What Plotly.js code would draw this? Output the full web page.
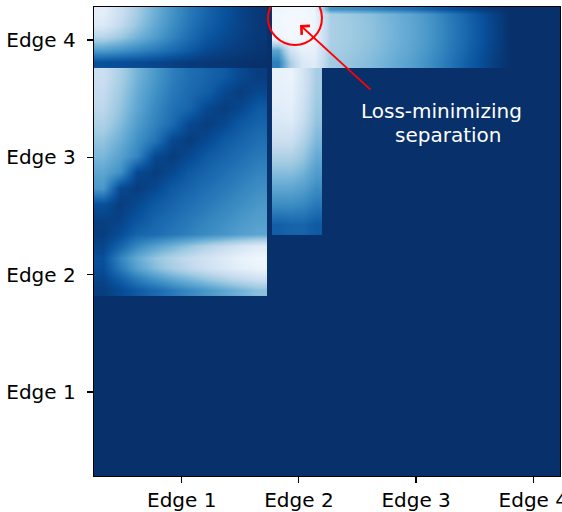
<!DOCTYPE html>
<html><head><meta charset="utf-8">
<script src="https://cdn.plot.ly/plotly-3.0.1.min.js"></script>
<style>html,body{margin:0;padding:0;background:#fff;}#chart{width:562px;height:512px;}</style>
</head><body><div id="chart"></div>
<script>
// tick positions / labels
const edgeTicks = [1, 2, 3, 4];
const edgeLabels = ['Edge 1', 'Edge 2', 'Edge 3', 'Edge 4'];

// shared columns for the Edge-1 blocks (x in edge units)
const colsLeft = [0.3255, 0.4731, 0.6207, 0.7683, 0.9159, 1.0635, 1.2112, 1.3588, 1.5064, 1.6540];

// Block A: Edge 1 (x) vs Edge 4 (y), rows listed top to bottom
const rowsA = [4.2293, 4.1253, 4.0214, 3.9174, 3.8134];
const lossA = [
  [0.10, 0.22, 0.36, 0.50, 0.62, 0.72, 0.80, 0.87, 0.93, 0.97],
  [0.14, 0.26, 0.40, 0.53, 0.64, 0.74, 0.82, 0.88, 0.93, 0.97],
  [0.30, 0.38, 0.48, 0.58, 0.68, 0.77, 0.85, 0.90, 0.94, 0.97],
  [0.58, 0.62, 0.67, 0.72, 0.78, 0.84, 0.90, 0.94, 0.96, 0.98],
  [0.88, 0.89, 0.90, 0.92, 0.94, 0.96, 0.97, 0.98, 0.99, 1.00]
];

// Block B: Edge 1 (x) vs Edge 2-3 (y), rows top to bottom
const rowsB = [3.6932, 3.5569, 3.4205, 3.2842, 3.1478, 3.0114, 2.8751, 2.7387,
               2.6023, 2.4660, 2.3466, 2.2444, 2.1421, 2.0569, 1.9716, 1.8693];
const lossB = [
  [0.22, 0.34, 0.48, 0.60, 0.70, 0.76, 0.80, 0.84, 0.91, 0.95],
  [0.25, 0.37, 0.51, 0.63, 0.72, 0.78, 0.82, 0.91, 0.95, 0.91],
  [0.28, 0.40, 0.54, 0.66, 0.75, 0.80, 0.91, 0.95, 0.91, 0.84],
  [0.33, 0.44, 0.58, 0.69, 0.78, 0.91, 0.95, 0.91, 0.84, 0.80],
  [0.40, 0.50, 0.63, 0.74, 0.91, 0.95, 0.91, 0.84, 0.80, 0.76],
  [0.46, 0.56, 0.68, 0.91, 0.95, 0.91, 0.84, 0.80, 0.76, 0.72],
  [0.54, 0.63, 0.91, 0.95, 0.91, 0.84, 0.80, 0.76, 0.72, 0.68],
  [0.60, 0.91, 0.95, 0.91, 0.84, 0.80, 0.76, 0.72, 0.68, 0.64],
  [0.88, 0.95, 0.91, 0.84, 0.80, 0.76, 0.72, 0.68, 0.64, 0.60],
  [0.94, 0.93, 0.86, 0.80, 0.76, 0.72, 0.68, 0.64, 0.60, 0.57],
  [0.95, 0.89, 0.80, 0.77, 0.73, 0.69, 0.65, 0.61, 0.57, 0.54],
  [0.92, 0.80, 0.66, 0.56, 0.48, 0.40, 0.32, 0.25, 0.18, 0.12],
  [0.88, 0.68, 0.52, 0.40, 0.32, 0.25, 0.19, 0.13, 0.07, 0.04],
  [0.89, 0.72, 0.56, 0.44, 0.35, 0.28, 0.21, 0.15, 0.10, 0.06],
  [0.92, 0.82, 0.70, 0.60, 0.52, 0.45, 0.38, 0.31, 0.25, 0.20],
  [0.95, 0.90, 0.84, 0.78, 0.72, 0.66, 0.60, 0.54, 0.48, 0.42]
];

// Block C: Edge 2 (x) vs Edge 2-3 (y)
const colsC = [1.8238, 1.9305, 2.0371, 2.1438];
const rowsC = [3.6728, 3.4947, 3.3165, 3.1384, 2.9603, 2.7830, 2.6049, 2.4267];
const lossC = [
  [0.08, 0.06, 0.18, 0.35],
  [0.10, 0.08, 0.20, 0.37],
  [0.14, 0.12, 0.24, 0.40],
  [0.22, 0.22, 0.32, 0.46],
  [0.36, 0.36, 0.42, 0.54],
  [0.50, 0.50, 0.54, 0.62],
  [0.64, 0.64, 0.66, 0.72],
  [0.82, 0.80, 0.80, 0.84]
];

// Block D: Edge 2-4 (x) vs Edge 4 (y)
const colsD = [1.8217, 1.9241, 2.0265, 2.1289, 2.2654, 2.4360, 2.6067, 2.7773,
               2.9480, 3.1186, 3.2893, 3.4599, 3.6306, 3.8012];
const rowsD = [4.2600, 4.2174, 4.1194, 4.0171, 3.9149, 3.8126];
const lossD = [
  [0.05, 0.03, 0.03, 0.06, 0.62, 0.64, 0.68, 0.72, 0.76, 0.82, 0.88, 0.93, 0.97, 1.00],
  [0.04, 0.02, 0.02, 0.05, 0.34, 0.38, 0.42, 0.48, 0.54, 0.62, 0.72, 0.82, 0.92, 1.00],
  [0.04, 0.02, 0.02, 0.05, 0.33, 0.37, 0.41, 0.47, 0.53, 0.61, 0.71, 0.81, 0.91, 1.00],
  [0.06, 0.03, 0.03, 0.06, 0.33, 0.37, 0.41, 0.47, 0.53, 0.61, 0.71, 0.81, 0.91, 1.00],
  [0.55, 0.20, 0.08, 0.08, 0.34, 0.38, 0.42, 0.48, 0.54, 0.62, 0.72, 0.82, 0.92, 1.00],
  [0.70, 0.35, 0.15, 0.12, 0.36, 0.40, 0.44, 0.50, 0.56, 0.64, 0.74, 0.84, 0.93, 1.00]
];

// loss-minimizing separation (circle centre + radius, arrow tail, label anchor)
const minSep = {x: 1.9667, y: 4.1876, r: 0.2302};
const arrowHead = {x: 2.0094, y: 4.1279};
const arrowTail = {x: 2.6237, y: 3.5654};
const labelLines = ['Loss-minimizing', 'separation'];
const labelPos = [{x: 3.2167, y: 3.3907}, {x: 3.2722, y: 3.1904}];

const blues = [[0, '#f7fbff'], [0.125, '#deebf7'], [0.25, '#c6dbef'], [0.375, '#9ecae1'],
  [0.5, '#6baed6'], [0.625, '#4292c6'], [0.75, '#2171b5'], [0.875, '#08519c'], [1, '#08306b']];

function block(xs, ys, zs) {
  return {type: 'heatmap', x: xs, y: ys.slice().reverse(), z: zs.slice().reverse(),
    colorscale: blues, zmin: 0, zmax: 1, zsmooth: 'best', showscale: false, hoverinfo: 'skip'};
}

const data = [
  block(colsLeft, rowsA, lossA),
  block(colsLeft, rowsB, lossB),
  block(colsC, rowsC, lossC),
  block(colsD, rowsD, lossD)
];

const font = {family: 'DejaVu Sans', size: 20, color: '#000'};
const axisBase = {showgrid: false, zeroline: false, showline: true, mirror: true,
  linecolor: '#000', linewidth: 1.3, ticks: 'outside', ticklen: 6, tickwidth: 1.2,
  tickcolor: '#000', tickvals: edgeTicks, ticktext: edgeLabels, tickfont: font,
  ticklabeloverflow: 'allow', fixedrange: true};

const layout = {
  width: 562, height: 512,
  margin: {l: 94, r: 2, t: 7, b: 36, pad: 0},
  paper_bgcolor: '#fff', plot_bgcolor: '#08306b',
  font: font, showlegend: false,
  xaxis: Object.assign({}, axisBase, {range: [0.2517, 4.228]}),
  yaxis: Object.assign({}, axisBase, {range: [0.284, 4.281], ticklabelstandoff: 7}),
  shapes: [{type: 'circle', xref: 'x', yref: 'y',
    x0: minSep.x - minSep.r, x1: minSep.x + minSep.r,
    y0: minSep.y - minSep.r, y1: minSep.y + minSep.r,
    line: {color: '#ff0000', width: 2}, layer: 'above'}],
  annotations: [
    {x: arrowHead.x, y: arrowHead.y, xref: 'x', yref: 'y', text: '',
     showarrow: true, ax: arrowTail.x, ay: arrowTail.y, axref: 'x', ayref: 'y',
     arrowcolor: '#ff0000', arrowwidth: 1.8, arrowhead: 4, arrowsize: 1.3, standoff: 0},
    {x: labelPos[0].x, y: labelPos[0].y, xref: 'x', yref: 'y', text: labelLines[0],
     showarrow: false, xanchor: 'center', yanchor: 'middle',
     font: {family: 'DejaVu Sans', size: 20, color: '#fff'}},
    {x: labelPos[1].x, y: labelPos[1].y, xref: 'x', yref: 'y', text: labelLines[1],
     showarrow: false, xanchor: 'center', yanchor: 'middle',
     font: {family: 'DejaVu Sans', size: 20, color: '#fff'}}
  ]
};

Plotly.newPlot('chart', data, layout, {displayModeBar: false, staticPlot: true});
</script>
</body></html>
